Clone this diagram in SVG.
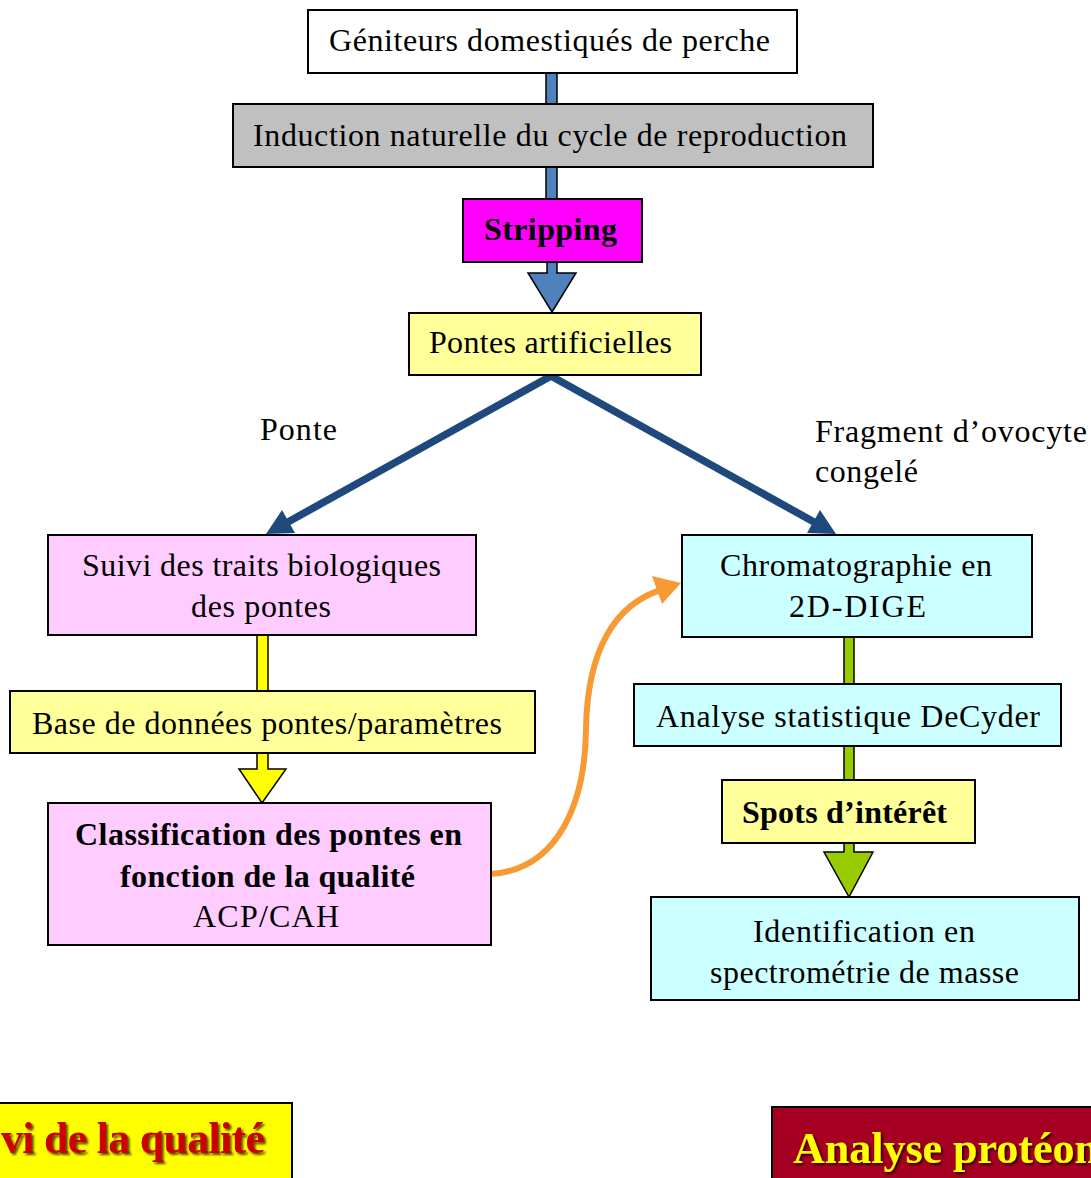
<svg xmlns="http://www.w3.org/2000/svg" width="1091" height="1178" viewBox="0 0 1091 1178">
<style>
.t{font-family:"Liberation Serif","Times New Roman",serif;font-size:32px;fill:#000}
.b{font-weight:bold}
.box{stroke:#000;stroke-width:2}
.big{font-family:"Liberation Serif","Times New Roman",serif;font-size:44px;font-weight:bold}
</style>
<defs>
<filter id="sh" x="-10%" y="-30%" width="120%" height="160%">
<feDropShadow dx="2" dy="2" stdDeviation="1.2" flood-color="#000" flood-opacity="0.7"/>
</filter>
</defs>
<rect width="1091" height="1178" fill="#fff"/>
<g id="connectors">
<g fill="#4F81BD" stroke="#000" stroke-width="1.5">
<rect x="546" y="73" width="11" height="31"/>
<rect x="546" y="167" width="11" height="32"/>
<polygon points="547,262 557,262 557,273 576,273 552,312 528,273 547,273"/>
</g>
<g fill="#FFFF00" stroke="#000" stroke-width="1.5">
<rect x="257" y="635" width="11" height="56"/>
<polygon points="257,753 268,753 268,769 286,769 262,803 239,769 257,769"/>
</g>
<g fill="#99CC00" stroke="#000" stroke-width="1.5">
<rect x="844" y="637" width="10" height="47"/>
<rect x="844" y="746" width="10" height="34"/>
<polygon points="844,843 854,843 854,852 873,852 849,897 824,852 844,852"/>
</g>
<g stroke="#1F497D" stroke-width="7.5" fill="none">
<polyline points="288,522 551,376 814,522"/>
</g>
<g fill="#1F497D">
<polygon points="266,534 282,510 295,533"/>
<polygon points="836,534 820,510 807,533"/>
</g>
<path d="M490,874 C560,870 585,800 586,730 C587,650 615,603 664,589" fill="none" stroke="#F79A34" stroke-width="6"/>
<polygon points="681,583 652,576 662,604" fill="#F79A34"/>
</g>
<g id="n1"><rect class="box" x="308" y="10" width="489" height="63" fill="#fff"/><text class="t" x="329" y="51" textLength="441">Géniteurs domestiqués de perche</text></g>
<g id="n2"><rect class="box" x="233" y="104" width="640" height="63" fill="#C0C0C0"/><text class="t" x="253" y="146" textLength="594">Induction naturelle du cycle de reproduction</text></g>
<g id="n3"><rect class="box" x="463" y="199" width="179" height="63" fill="#FF00FF"/><text class="t b" x="484" y="240" textLength="133">Stripping</text></g>
<g id="n4"><rect class="box" x="409" y="313" width="292" height="62" fill="#FFFF99"/><text class="t" x="429" y="353" textLength="243">Pontes artificielles</text></g>
<g id="lbl-ponte"><text class="t" x="260" y="440" textLength="77">Ponte</text></g>
<g id="lbl-fragment"><text class="t" x="815" y="442" textLength="272">Fragment d’ovocyte</text><text class="t" x="815" y="482" textLength="103">congelé</text></g>
<g id="n5"><rect class="box" x="48" y="535" width="428" height="100" fill="#FFCCFF"/><text class="t" x="82" y="576" textLength="359">Suivi des traits biologiques</text><text class="t" x="191" y="617" textLength="140">des pontes</text></g>
<g id="n6"><rect class="box" x="10" y="691" width="525" height="62" fill="#FFFF99"/><text class="t" x="32" y="734" textLength="470">Base de données pontes/paramètres</text></g>
<g id="n7"><rect class="box" x="48" y="803" width="443" height="142" fill="#FFCCFF"/><text class="t b" x="75" y="845" textLength="387">Classification des pontes en</text><text class="t b" x="120" y="887" textLength="295">fonction de la qualité</text><text class="t" x="193" y="927" textLength="146">ACP/CAH</text></g>
<g id="n8"><rect class="box" x="682" y="535" width="350" height="102" fill="#CCFFFF"/><text class="t" x="720" y="576" textLength="272">Chromatographie en</text><text class="t" x="789" y="617" textLength="137">2D-DIGE</text></g>
<g id="n9"><rect class="box" x="634" y="684" width="427" height="62" fill="#CCFFFF"/><text class="t" x="656" y="727" textLength="384">Analyse statistique  DeCyder</text></g>
<g id="n10"><rect class="box" x="722" y="780" width="253" height="63" fill="#FFFF99"/><text class="t b" x="742" y="823" textLength="205">Spots d’intérêt</text></g>
<g id="n11"><rect class="box" x="651" y="897" width="428" height="103" fill="#CCFFFF"/><text class="t" x="753" y="942" textLength="222">Identification en</text><text class="t" x="710" y="983" textLength="309">spectrométrie de masse</text></g>
<g id="n12"><rect class="box" x="-5" y="1103" width="297" height="80" fill="#FFFF00"/><text class="big" x="1" y="1153" textLength="264" fill="#CC0000" filter="url(#sh)">vi de la qualité</text></g>
<g id="n13"><rect class="box" x="772" y="1107" width="330" height="80" fill="#A50021"/><text class="big" x="793" y="1163" fill="#FFFF00" filter="url(#sh)">Analyse protéom</text></g>
</svg>
